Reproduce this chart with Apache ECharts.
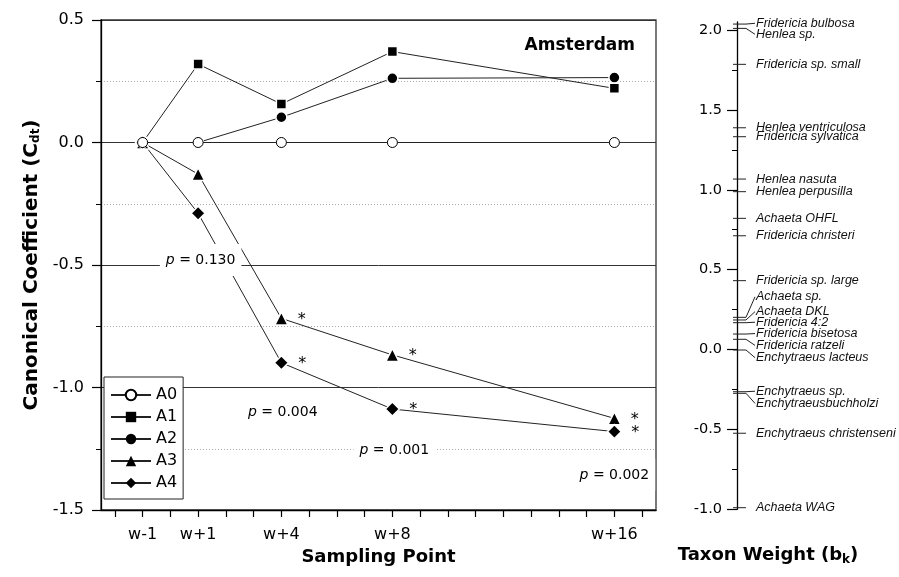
<!DOCTYPE html>
<html>
<head>
<meta charset="utf-8">
<script src="https://cdn.jsdelivr.net/npm/echarts@6/dist/echarts.min.js"></script>
<style>
html, body { margin: 0; padding: 0; background: #fff; }
#chart { width: 899px; height: 577px; }
</style>
</head>
<body>
<div id="chart"></div>
<script>
// sampling points, in weeks from the treatment
const weeks = [-1, 1, 4, 8, 16]
const weekLabels = ['w-1', 'w+1', 'w+4', 'w+8', 'w+16']
const weekTicks = [-2, -1, 0, 1, 2, 3, 4, 5, 6, 7, 8, 9, 10, 11, 12, 13, 14, 15, 16, 17]

// canonical coefficients per treatment
const names = ['A0', 'A1', 'A2', 'A3', 'A4']
const a0 = [0, 0, 0, 0, 0]
const a1 = [0, 0.32, 0.157, 0.371, 0.221]
const a2 = [0, 0, 0.103, 0.262, 0.265]
const a3 = [0, -0.129, -0.718, -0.867, -1.126]
const a4 = [0, -0.289, -0.899, -1.088, -1.18]
// significant points (*)
const starA3 = [0, 0, 1, 1, 1]
const starA4 = [0, 0, 1, 1, 1]

// p values written in the plot
const pTexts = ['0.130', '0.004', '0.001', '0.002']
const pWeeks = [1.09, 4.05, 8.07, 16.0]
const pAt = [-0.48, -1.1, -1.258, -1.357]

// taxon weights (right axis)
const taxa = ['Fridericia bulbosa', 'Henlea sp.', 'Fridericia sp. small', 'Henlea ventriculosa', 'Fridericia sylvatica',
    'Henlea nasuta', 'Henlea perpusilla', 'Achaeta OHFL', 'Fridericia christeri', 'Fridericia sp. large',
    'Achaeta sp.', 'Achaeta DKL', 'Fridericia 4:2', 'Fridericia bisetosa', 'Fridericia ratzeli',
    'Enchytraeus lacteus', 'Enchytraeus sp.', 'Enchytraeusbuchholzi', 'Enchytraeus christenseni', 'Achaeta WAG']
const taxonWeights = [2.037, 2.01, 1.785, 1.388, 1.332, 1.067, 0.988, 0.821, 0.712, 0.431,
    0.2015, 0.185, 0.168, 0.097, 0.064, -0.003, -0.264, -0.274, -0.524, -0.99]
const taxonLabelAt = [2.042, 1.973, 1.785, 1.388, 1.332, 1.067, 0.988, 0.821, 0.712, 0.431,
    0.33, 0.237, 0.171, 0.1, 0.026, -0.051, -0.261, -0.337, -0.524, -0.99]
const weightTicks = [-1, -0.5, 0, 0.5, 1, 1.5, 2]

const font = 'DejaVu Sans'
const ink = '#000'

function pairs(vals, stars) {
    return vals.map((v, i) => {
        let item = {value: [weeks[i], v]}
        if (stars && stars[i]) item.label = {show: true, formatter: '*'}
        return item
    })
}

const symbols = ['circle', 'rect', 'circle', 'triangle', 'diamond']
const sizes = [10, 10, 11, 13, 14]
const values = [a0, a1, a2, a3, a4]
const stars = [null, null, null, starA3, starA4]

let lineSeries = names.map((n, k) => ({
    name: n,
    type: 'line',
    xAxisIndex: 0,
    yAxisIndex: 0,
    data: pairs(values[k], stars[k]),
    symbol: symbols[k],
    symbolSize: sizes[k],
    showAllSymbol: true,
    z: k === 0 ? 5 : 3,
    lineStyle: {color: '#222', width: 1},
    itemStyle: k === 0
        ? {color: '#fff', borderColor: ink, borderWidth: 1}
        : {color: ink, borderColor: '#fff', borderWidth: 1.5},
    label: {show: false, position: 'right', distance: 9, offset: [0, 1], color: ink, fontSize: 16, fontFamily: font},
    emphasis: {disabled: true},
    animation: false
}))

// p-value notes, white boxes over the grid lines
let pSeries = {
    type: 'custom',
    xAxisIndex: 0,
    yAxisIndex: 0,
    z: 10,
    silent: true,
    clip: false,
    data: pTexts.map((t, i) => [pWeeks[i], pAt[i]]),
    renderItem(params, api) {
        let c = api.coord([api.value(0), api.value(1)])
        return {
            type: 'text', x: c[0], y: c[1], z2: 100,
            style: {
                text: '{i|p} = ' + pTexts[params.dataIndex],
                fill: ink, fontSize: 14, fontFamily: font,
                align: 'center', verticalAlign: 'middle',
                backgroundColor: '#fff', padding: [9, 6],
                rich: {i: {fontStyle: 'italic', fontSize: 14, fontFamily: font, fill: ink}}
            }
        }
    },
    animation: false
}

let taxonSeries = {
    type: 'custom',
    xAxisIndex: 1,
    yAxisIndex: 1,
    clip: false,
    silent: true,
    data: taxa.map((t, i) => [0, taxonWeights[i], taxonLabelAt[i]]),
    renderItem(params, api) {
        let p = api.coord([0, api.value(1)])
        let q = api.coord([0, api.value(2)])
        let kids = [{type: 'line', shape: {x1: p[0] - 4, y1: p[1], x2: p[0] + 9, y2: p[1]}, style: {stroke: '#222', lineWidth: 1}}]
        if (api.value(1) !== api.value(2)) {
            kids.push({type: 'line', shape: {x1: p[0] + 9, y1: p[1], x2: p[0] + 18, y2: q[1]}, style: {stroke: '#222', lineWidth: 1}})
        }
        kids.push({
            type: 'text', x: p[0] + 19, y: q[1],
            style: {text: taxa[params.dataIndex], fill: '#111', fontStyle: 'italic', fontSize: 12.5,
                fontFamily: 'Liberation Sans', align: 'left', verticalAlign: 'middle'}
        })
        return {type: 'group', children: kids}
    },
    animation: false
}

let subStyle = {fontFamily: font, fontWeight: 'bold', fontSize: 12, color: '#000', verticalAlign: 'bottom', padding: [9, 0, 0, 0]}

let chart = echarts.init(document.getElementById('chart'))
let option = {
    backgroundColor: '#fff',
    animation: false,
    title: {
        text: 'Amsterdam', right: 259, top: 32,
        textStyle: {fontFamily: font, fontWeight: 'bold', fontSize: 17, color: '#000'}
    },
    legend: {
        data: names.map((n, k) => k === 0 ? {name: n} : {name: n, itemStyle: {borderWidth: 0}}),
        orient: 'vertical',
        left: 104, top: 377,
        backgroundColor: '#fff',
        borderColor: '#222', borderWidth: 1, borderRadius: 0,
        padding: [10, 6, 8, 6],
        itemWidth: 40, itemHeight: 13, itemGap: 6,
        textStyle: {fontFamily: font, fontSize: 16, color: ink},
        z: 20
    },
    grid: [
        {left: 101, right: 243, top: 20, bottom: 67, show: true, borderColor: '#333', borderWidth: 1.3, backgroundColor: 'transparent'},
        {left: 737, width: 62, top: 22, bottom: 67.7}
    ],
    xAxis: [
        {
            type: 'value', gridIndex: 0, min: -2.5, max: 17.5,
            name: 'Sampling Point', nameLocation: 'middle', nameGap: 37,
            nameTextStyle: {fontFamily: font, fontWeight: 'bold', fontSize: 18, color: '#000'},
            axisLine: {show: true, onZero: false, lineStyle: {color: ink, width: 1.3}},
            axisTick: {show: true, length: 7, customValues: weekTicks, lineStyle: {color: ink, width: 1.2}},
            axisLabel: {
                customValues: weeks, margin: 17, color: ink, fontSize: 16, fontFamily: font,
                formatter: v => weekLabels[weeks.indexOf(v)]
            },
            splitLine: {show: false}
        },
        {
            type: 'value', gridIndex: 1, min: 0, max: 1,
            name: 'Taxon Weight (b{sub|k})', nameLocation: 'middle', nameGap: 36,
            nameTextStyle: {fontFamily: font, fontWeight: 'bold', fontSize: 18, color: '#000', rich: {sub: subStyle}},
            axisLine: {show: false}, axisTick: {show: false}, axisLabel: {show: false}, splitLine: {show: false}
        }
    ],
    yAxis: [
        {
            type: 'value', gridIndex: 0, min: -1.5, max: 0.5, interval: 0.5,
            name: 'Canonical Coefficient (C{sub|dt})', nameLocation: 'middle', nameGap: 56,
            nameTextStyle: {fontFamily: font, fontWeight: 'bold', fontSize: 20, color: '#000', rich: {sub: subStyle}},
            axisLine: {show: true, onZero: false, lineStyle: {color: ink, width: 1.3}},
            axisTick: {show: true, length: 9, lineStyle: {color: ink, width: 1.2}},
            minorTick: {show: true, splitNumber: 2, length: 5, lineStyle: {color: ink, width: 1}},
            axisLabel: {margin: 17, color: ink, fontSize: 16, fontFamily: font, formatter: v => v.toFixed(1)},
            splitLine: {show: true, lineStyle: {color: '#333', width: 1}},
            minorSplitLine: {show: true, lineStyle: {color: '#aaa', width: 1, type: [1, 2]}}
        },
        {
            type: 'value', gridIndex: 1, min: -1, max: 2.05, interval: 0.5,
            axisLine: {show: true, onZero: false, lineStyle: {color: ink, width: 1.3}},
            axisTick: {show: true, length: 10, customValues: weightTicks, lineStyle: {color: ink, width: 1.2}},
            minorTick: {show: true, splitNumber: 2, length: 5, lineStyle: {color: ink, width: 1}},
            axisLabel: {customValues: weightTicks, margin: 15, color: ink, fontSize: 14.5, fontFamily: font, formatter: v => v.toFixed(1)},
            splitLine: {show: false}
        }
    ],
    series: [...lineSeries, pSeries, taxonSeries]
}
chart.setOption(option)
</script>
</body>
</html>
